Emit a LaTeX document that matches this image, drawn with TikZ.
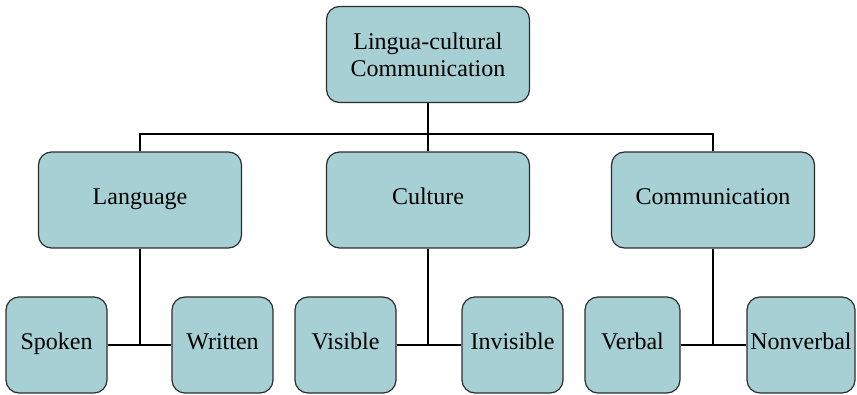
\documentclass[tikz,border=0pt]{standalone}
\usepackage{fontspec}
\setmainfont{Liberation Serif}
\usetikzlibrary{positioning}
\definecolor{boxfill}{RGB}{166,208,212}
\definecolor{boxline}{RGB}{45,45,45}
\begin{document}
\begin{tikzpicture}[x=0.5pt,y=-0.5pt,
    main node/.style={rectangle,rounded corners=6.5pt,draw=boxline,line width=0.6pt,fill=boxfill,
        align=center,inner sep=1pt,minimum width=101.5pt,minimum height=48pt,
        font=\fontsize{12}{13.5}\selectfont},
    one line/.style={main node,text height=1.45ex,text depth=0.45ex},
    leaf node/.style={one line,minimum width=50.5pt},
    link/.style={draw=black,line width=0.75pt}]
    \useasboundingbox (0,0) rectangle (857,395);
    \node[main node] (top) at (428,54.5) {Lingua-cultural\\Communication};

    \node[one line] (lang) at (140,200) {Language};
    \node[one line] (cult) at (428,200) {Culture};
    \node[one line] (comm) at (713,200) {Communication};

    \node[leaf node] (spoken) at (56.5,345) {Spoken};
    \node[leaf node] (written) at (222.5,345) {Written};
    \node[leaf node] (visible) at (345.5,345) {Visible};
    \node[leaf node] (invisible) at (512.5,345) {Invisible};
    \node[leaf node,minimum width=47.5pt] (verbal) at (632.5,345) {Verbal};
    \node[leaf node,minimum width=54pt] (nonverbal) at (801,345) {Nonverbal};

    \coordinate (bar) at (428,134);

    % top level to second level
    \draw[link] (top) -- (cult);
    \draw[link] (lang.north) |- (bar) -| (comm.north);

    % second level to leaves
    \draw[link] (spoken) -- (written);
    \draw[link] (visible) -- (invisible);
    \draw[link] (verbal) -- (nonverbal);
    \draw[link] (lang) -- (lang |- spoken);
    \draw[link] (cult) -- (cult |- visible);
    \draw[link] (comm) -- (comm |- verbal);
\end{tikzpicture}
\end{document}
